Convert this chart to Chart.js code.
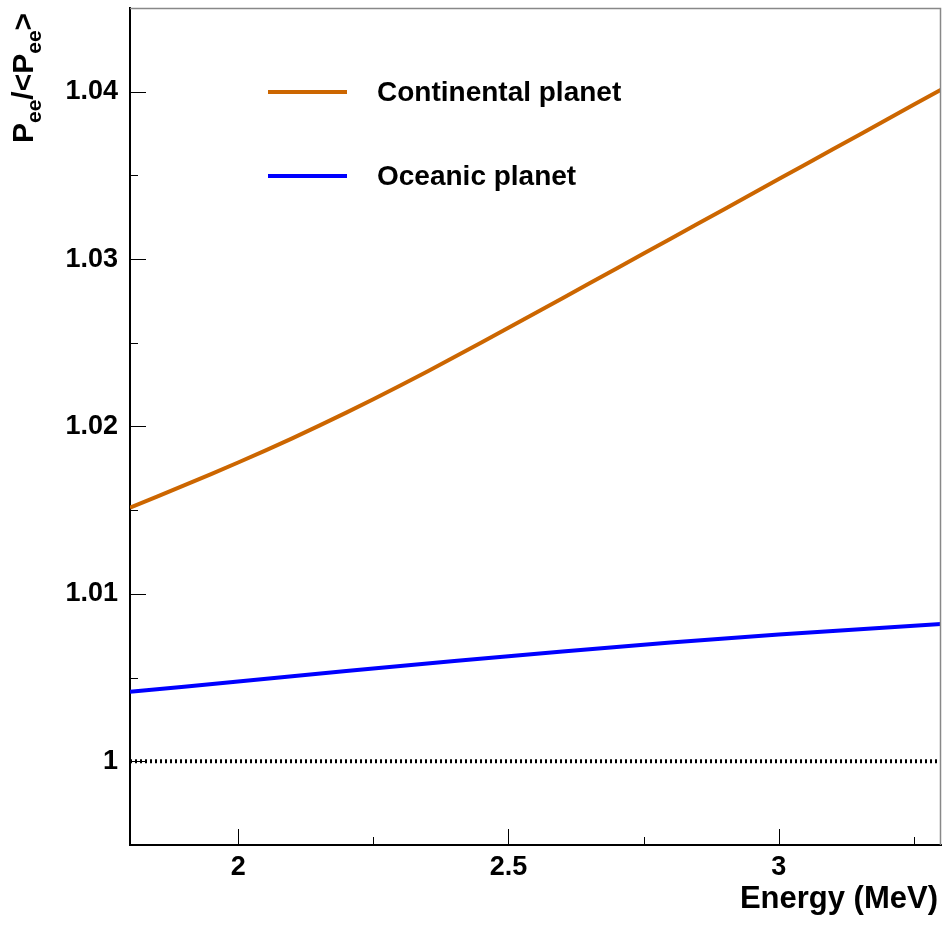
<!DOCTYPE html>
<html>
<head>
<meta charset="utf-8">
<script src="https://cdn.jsdelivr.net/npm/chart.js@4.4.0/dist/chart.umd.min.js"></script>
<style>
  html, body { margin: 0; padding: 0; background: #fff; }
  canvas { display: block; }
</style>
</head>
<body>
<canvas id="myChart" width="948" height="925"></canvas>
<script>
// Values
var energyCont = [1.80, 1.85, 1.90, 1.95, 2.00, 2.05, 2.10, 2.15, 2.20, 2.25, 2.30,
                  2.35, 2.40, 2.45, 2.50, 2.55, 2.60, 2.65, 2.70, 2.75, 2.80,
                  2.85, 2.90, 2.95, 3.00, 3.05, 3.10, 3.15, 3.20, 3.25, 3.30];
var ratioCont = [1.01515, 1.01581, 1.01648, 1.01716, 1.01785, 1.01856, 1.01929, 1.02005, 1.02083, 1.02163, 1.02245,
                 1.02329, 1.02415, 1.02502, 1.02590, 1.02678, 1.02766, 1.02855, 1.02944, 1.03033, 1.03122,
                 1.03211, 1.03300, 1.03389, 1.03478, 1.03567, 1.03656, 1.03745, 1.03834, 1.03923, 1.04012];

var energyOcean = [1.8, 1.9, 2.0, 2.1, 2.2, 2.3, 2.4, 2.5, 2.6, 2.7, 2.8, 2.9, 3.0, 3.1, 3.2, 3.3];
var ratioOcean = [1.00415, 1.00446, 1.00477, 1.00508, 1.00539, 1.00569, 1.00599, 1.00628,
                  1.00656, 1.00683, 1.00709, 1.00734, 1.00757, 1.00779, 1.00800, 1.00820];

var refEnergy = [1.8, 3.3];
var refRatio = [1, 1];

var seriesLabels = ['Continental planet', 'Oceanic planet'];

var xMajorTicks = [2, 2.5, 3];
var xMinorTicks = [2.25, 2.75, 3.25];
var yMajorTicks = [1, 1.01, 1.02, 1.03, 1.04];
var yMinorTicks = [1.005, 1.015, 1.025, 1.035];

var FONT = '"Liberation Sans", Arial, Helvetica, sans-serif';

function toPoints(xs, ys) {
  return xs.map(function (x, i) { return { x: x, y: ys[i] }; });
}

// inward ticks, frame, legend and axis titles
var decorPlugin = {
  id: 'decor',
  afterDatasetsDraw: function (chart) {
    var ctx = chart.ctx;
    var area = chart.chartArea;
    var xs = chart.scales.x;
    var ys = chart.scales.y;
    ctx.save();

    // top and right frame
    ctx.strokeStyle = '#888';
    ctx.lineWidth = 1.5;
    ctx.beginPath();
    ctx.moveTo(area.left, area.top + 0.5);
    ctx.lineTo(area.right - 0.5, area.top + 0.5);
    ctx.lineTo(area.right - 0.5, area.bottom);
    ctx.stroke();

    // tick marks
    ctx.strokeStyle = '#000';
    ctx.lineWidth = 1;
    ctx.beginPath();
    xMajorTicks.forEach(function (v) {
      var px = Math.round(xs.getPixelForValue(v)) + 0.5;
      ctx.moveTo(px, area.bottom);
      ctx.lineTo(px, area.bottom - 16);
    });
    xMinorTicks.forEach(function (v) {
      var px = Math.round(xs.getPixelForValue(v)) + 0.5;
      ctx.moveTo(px, area.bottom);
      ctx.lineTo(px, area.bottom - 8);
    });
    yMajorTicks.forEach(function (v) {
      var py = Math.round(ys.getPixelForValue(v)) + 0.5;
      ctx.moveTo(area.left, py);
      ctx.lineTo(area.left + 16, py);
    });
    yMinorTicks.forEach(function (v) {
      var py = Math.round(ys.getPixelForValue(v)) + 0.5;
      ctx.moveTo(area.left, py);
      ctx.lineTo(area.left + 8, py);
    });
    ctx.stroke();

    // legend
    var legendY = [92, 176];
    ctx.font = 'bold 28px ' + FONT;
    ctx.textBaseline = 'middle';
    ctx.textAlign = 'left';
    for (var i = 0; i < 2; i++) {
      var ds = chart.data.datasets[i];
      ctx.strokeStyle = ds.borderColor;
      ctx.lineWidth = 4;
      ctx.beginPath();
      ctx.moveTo(268, legendY[i]);
      ctx.lineTo(347, legendY[i]);
      ctx.stroke();
      ctx.fillStyle = '#000';
      ctx.fillText(ds.label, 377, legendY[i] + 1);
    }

    // x title
    ctx.textBaseline = 'alphabetic';
    ctx.textAlign = 'right';
    ctx.font = 'bold 31px ' + FONT;
    ctx.fillText('Energy (MeV)', 938, 908);

    // y title: P_ee/<P_ee>
    ctx.translate(33, 143);
    ctx.rotate(-Math.PI / 2);
    ctx.textAlign = 'left';
    var parts = [['P', 0], ['ee', 1], ['/<', 0], ['P', 0], ['ee', 1], ['>', 0]];
    var pos = 0;
    parts.forEach(function (p) {
      ctx.font = p[1] ? 'bold 21px ' + FONT : 'bold 30px ' + FONT;
      ctx.fillText(p[0], pos, p[1] ? 8 : 0);
      pos += ctx.measureText(p[0]).width;
    });

    ctx.restore();
  }
};

var ctx = document.getElementById('myChart').getContext('2d');

var myChart = new Chart(ctx, {
  type: 'line',
  data: {
    datasets: [{
      label: seriesLabels[0],
      data: toPoints(energyCont, ratioCont),
      borderColor: '#cc6600',
      borderWidth: 4,
      pointRadius: 0,
      tension: 0
    }, {
      label: seriesLabels[1],
      data: toPoints(energyOcean, ratioOcean),
      borderColor: '#0000ff',
      borderWidth: 4,
      pointRadius: 0,
      tension: 0
    }, {
      label: 'reference',
      data: toPoints(refEnergy, refRatio),
      borderColor: '#000',
      borderWidth: 4,
      borderDash: [2, 3],
      pointRadius: 0
    }]
  },
  options: {
    responsive: false,
    animation: false,
    layout: { padding: { top: 8, right: 7, left: 0, bottom: 0 } },
    plugins: {
      legend: { display: false },
      tooltip: { enabled: false }
    },
    scales: {
      x: {
        type: 'linear',
        min: 1.8,
        max: 3.3,
        grid: { display: false, drawTicks: false },
        border: { display: true, color: '#000', width: 2 },
        afterBuildTicks: function (scale) {
          scale.ticks = xMajorTicks.map(function (v) { return { value: v }; });
        },
        afterFit: function (scale) {
          scale.height = 80;
          scale.paddingLeft = 0;
          scale.paddingRight = 0;
        },
        ticks: {
          color: '#000',
          padding: 6,
          maxRotation: 0,
          font: { family: FONT, size: 27, weight: 'bold' },
          callback: function (value) { return String(value); }
        }
      },
      y: {
        type: 'linear',
        min: 0.995,
        max: 1.045,
        grid: { display: false, drawTicks: false },
        border: { display: true, color: '#000', width: 2 },
        afterBuildTicks: function (scale) {
          scale.ticks = yMajorTicks.map(function (v) { return { value: v }; });
        },
        afterFit: function (scale) {
          scale.width = 130;
          scale.paddingTop = 0;
          scale.paddingBottom = 0;
        },
        ticks: {
          color: '#000',
          padding: 12,
          font: { family: FONT, size: 27, weight: 'bold' },
          callback: function (value) { return String(Math.round(value * 100) / 100); }
        }
      }
    }
  },
  plugins: [decorPlugin]
});
</script>
</body>
</html>
